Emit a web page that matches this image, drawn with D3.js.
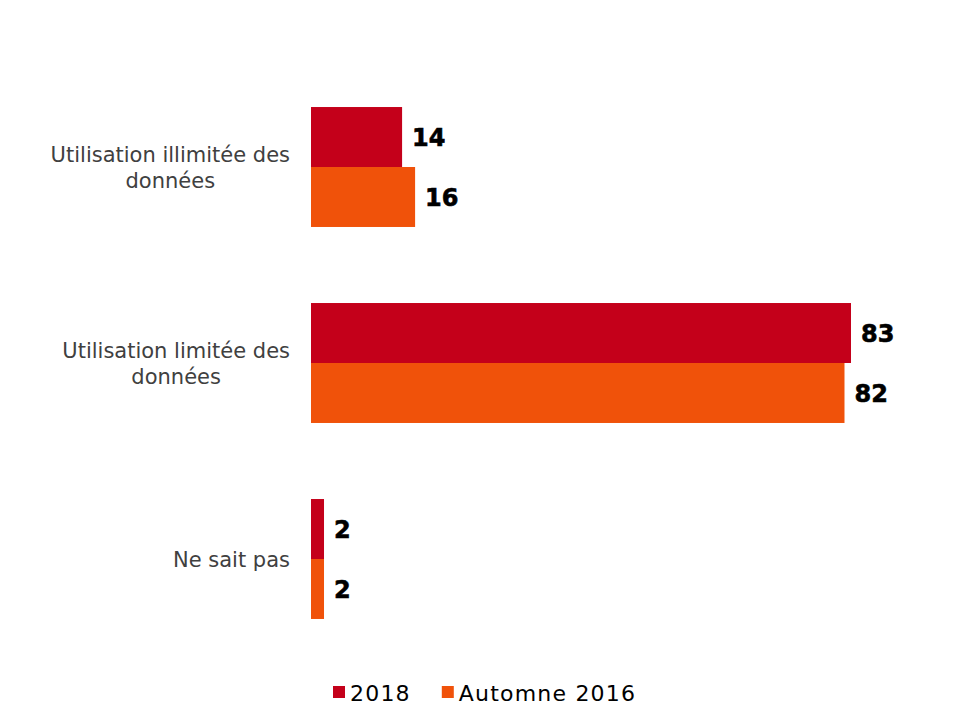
<!DOCTYPE html>
<html><head><meta charset="utf-8">
<script src="https://cdn.jsdelivr.net/npm/d3@7"></script>
<style>body{margin:0;background:#fff}</style>
</head><body>
<svg id="c" width="960" height="720"></svg>
<script>
const categories = [["Utilisation illimitée des","données"],["Utilisation limitée des","données"],["Ne sait pas"]];
const seriesNames = ["2018","Automne 2016"];
const values2018 = [14, 83, 2];
const values2016 = [16, 82, 2];
const colors = ["#C4001A","#F0520A"];
const FONT = "'DejaVu Sans', Verdana, sans-serif";

const svg = d3.select("#c");
const x = d3.scaleLinear().domain([0, 83]).range([311, 851]);
const y = d3.scaleBand().domain(d3.range(categories.length)).range([69, 657]).paddingInner(0.388).paddingOuter(0.194);
const sub = d3.scaleBand().domain(d3.range(2)).range([0, y.bandwidth()]);
const series = [values2018, values2016];

categories.forEach((lines, i) => {
  const g = svg.append("g");
  const cy = y(i) + y.bandwidth()/2;
  const n = lines.length;
  const lh = 26;
  const texts = lines.map((l, k) => g.append("text").text(l)
      .attr("font-family",FONT).attr("font-size",21).attr("fill","#404040")
      .attr("y", cy + 7.5 + (k - (n-1)/2)*lh));
  const widths = texts.map(t => t.node().getComputedTextLength());
  const W = Math.max(...widths);
  const right = 290;
  texts.forEach((t, k) => t.attr("x", right - W/2).attr("text-anchor","middle"));
});

series.forEach((vals, s) => {
  vals.forEach((v, i) => {
    const y0 = y(i) + sub(s);
    svg.append("rect").attr("x", x(0)).attr("y", y0).attr("width", x(v)-x(0)).attr("height", sub.bandwidth()).attr("fill", colors[s]);
    svg.append("text").attr("x", x(v)+10).attr("y", y0 + sub.bandwidth()/2 + 9)
      .attr("font-family",FONT).attr("font-weight","bold").attr("font-size",24)
      .attr("fill","#000").attr("stroke","#000").attr("stroke-width",0.6).text(v);
  });
});

// legend
const leg = svg.append("g");
let lx = 333;
seriesNames.forEach((name, s) => {
  leg.append("rect").attr("x", lx).attr("y", 686).attr("width", 12).attr("height", 12).attr("fill", colors[s]);
  const t = leg.append("text").attr("x", lx + 17).attr("y", 701).attr("font-family",FONT).attr("font-size",22)
    .attr("letter-spacing",1.2).attr("fill","#000").text(name);
  lx += 17 + t.node().getComputedTextLength() + 31;
});
</script>
</body></html>
